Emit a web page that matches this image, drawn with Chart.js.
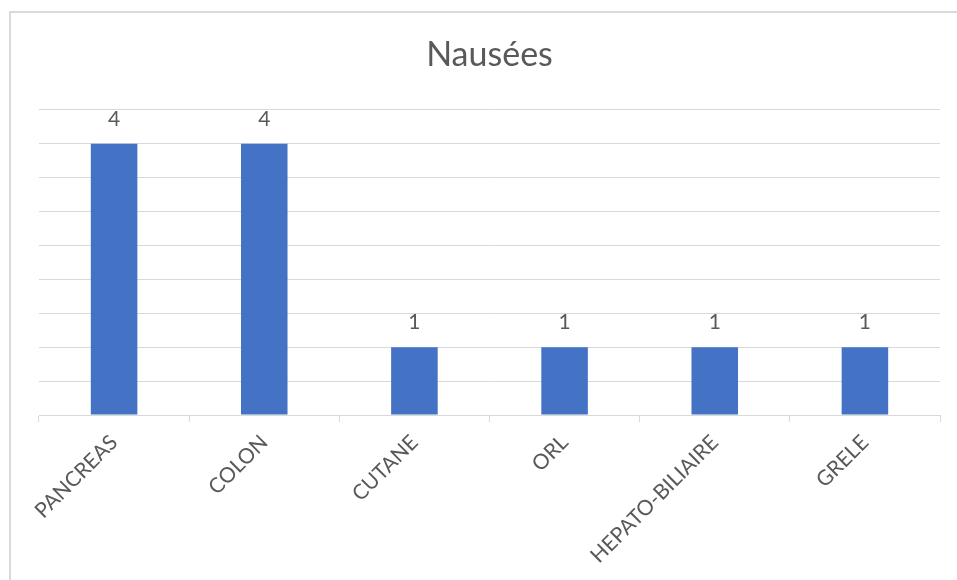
<!DOCTYPE html>
<html>
<head>
<meta charset="utf-8">
<script src="https://cdn.jsdelivr.net/npm/chart.js@4"></script>
<style>
  html, body { margin:0; padding:0; background:#fff; overflow:hidden; }
  #wrap { position:relative; width:957px; height:580px; }
  #frame { position:absolute; left:9px; top:11px; width:2000px; height:2000px; border:2px solid #d9d9d9; box-sizing:border-box; }
  canvas { position:absolute; left:0; top:0; }
</style>
</head>
<body>
<div id="wrap">
  <div id="frame"></div>
  <canvas id="chart" width="957" height="580"></canvas>
</div>
<script>
// data
const categories = ['PANCREAS', 'COLON', 'CUTANE', 'ORL', 'HEPATO-BILIAIRE', 'GRELE'];
const counts = [4, 4, 1, 1, 1, 1];
const chartTitle = 'Nausées';

const TEXT = '#595959';
const GRID = '#d9d9d9';

// draws the value above each bar
const valueLabels = {
  id: 'valueLabels',
  afterDatasetsDraw(chart){
    const ctx = chart.ctx;
    const meta = chart.getDatasetMeta(0);
    ctx.save();
    ctx.font = '21px Lato';
    ctx.fillStyle = TEXT;
    ctx.textAlign = 'center';
    ctx.textBaseline = 'alphabetic';
    meta.data.forEach((bar, i)=>{
      ctx.fillText(String(counts[i]), bar.x, bar.y - 18);
    });
    ctx.restore();
  }
};

new Chart(document.getElementById('chart').getContext('2d'), {
  type: 'bar',
  data: {
    labels: categories,
    datasets: [{
      data: counts,
      backgroundColor: '#4472C4',
      barPercentage: 0.31,
      categoryPercentage: 1
    }]
  },
  options: {
    responsive: false,
    animation: false,
    layout: { padding: { top: 19, left: 39, right: 17, bottom: 0 } },
    plugins: {
      legend: { display: false },
      tooltip: { enabled: false },
      title: {
        display: true,
        text: chartTitle,
        color: TEXT,
        font: { family: 'Lato', size: 34, weight: 'normal' },
        padding: { top: 16, bottom: 34 }
      }
    },
    scales: {
      x: {
        offset: true,
        grid: { offset: true, drawOnChartArea: false, drawTicks: true, tickLength: 7, color: GRID },
        border: { color: GRID, width: 1 },
        ticks: { color: TEXT, font: { family: 'Lato', size: 21 }, minRotation: 45, maxRotation: 45, padding: 8 },
        afterFit(s){ s.height = 165; }
      },
      y: {
        min: 0,
        max: 4.5,
        grid: { color: GRID, drawTicks: false },
        border: { display: false },
        ticks: { display: false, stepSize: 0.5 },
        afterFit(s){ s.width = 0; }
      }
    }
  },
  plugins: [valueLabels]
});
</script>
</body>
</html>
